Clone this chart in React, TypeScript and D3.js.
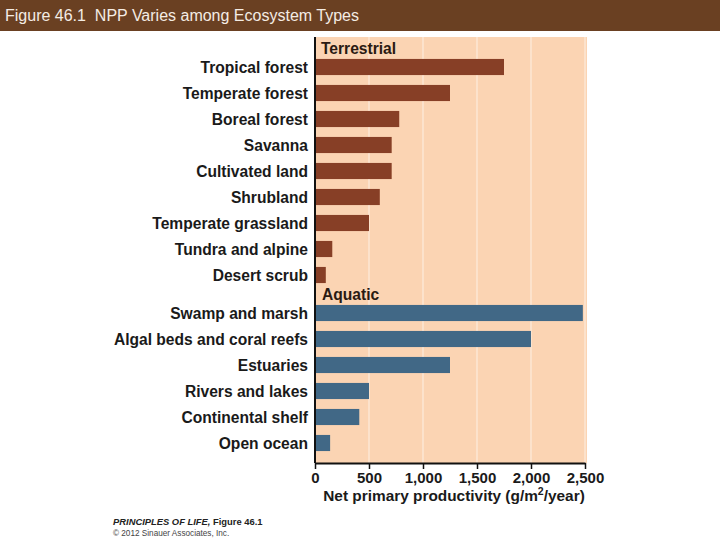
import React, { useEffect, useRef } from 'react';
import * as d3 from 'd3';

const terrestrial = [
  'Tropical forest', 'Temperate forest', 'Boreal forest', 'Savanna', 'Cultivated land',
  'Shrubland', 'Temperate grassland', 'Tundra and alpine', 'Desert scrub'
];
const terrestrialNpp = [1750, 1250, 780, 710, 710, 600, 500, 160, 100];

const aquatic = [
  'Swamp and marsh', 'Algal beds and coral reefs', 'Estuaries', 'Rivers and lakes',
  'Continental shelf', 'Open ocean'
];
const aquaticNpp = [2480, 2000, 1250, 500, 410, 140];

const xTicks = [0, 500, 1000, 1500, 2000, 2500];

const W = 720;
const H = 540;

export default function App() {
  const svgRef = useRef<SVGSVGElement>(null);

  useEffect(() => {
    const svg = d3.select(svgRef.current);
    svg.selectAll('*').remove();
    const font = 'Liberation Sans, Arial, Helvetica, sans-serif';

    // title bar
    svg.append('rect').attr('x', 0).attr('y', 0).attr('width', W).attr('height', 31).attr('fill', '#6a4022');
    svg.append('text')
      .attr('x', 5).attr('y', 21)
      .style('font-family', font).style('font-size', '16px').style('white-space', 'pre')
      .attr('fill', '#f4ece4')
      .text('Figure 46.1  NPP Varies among Ecosystem Types');

    const x = d3.scaleLinear().domain([0, 2500]).range([315, 585]);
    const step = 26;
    const yT = d3.scaleBand().domain(terrestrial).range([54, 54 + step * terrestrial.length]).paddingInner(0.38).paddingOuter(0.19);
    const yA = d3.scaleBand().domain(aquatic).range([300, 300 + step * aquatic.length]).paddingInner(0.38).paddingOuter(0.19);

    const top = 37;
    const bottom = 463;
    const labelSize = '15.6px';

    // panel
    svg.append('rect')
      .attr('x', x(0)).attr('y', top)
      .attr('width', x(2500) - x(0) + 2).attr('height', bottom - top)
      .attr('fill', '#fbd4b3');

    // gridlines
    svg.append('g').selectAll('line').data(xTicks.slice(1)).join('line')
      .attr('x1', d => x(d)).attr('x2', d => x(d))
      .attr('y1', top).attr('y2', bottom)
      .attr('stroke', '#fdf0e4').attr('stroke-width', 1);

    const drawBars = (names: string[], vals: number[], y: d3.ScaleBand<string>, color: string) => {
      svg.append('g').selectAll('rect').data(names).join('rect')
        .attr('x', x(0)).attr('y', d => y(d)!)
        .attr('width', (d, i) => x(vals[i]) - x(0)).attr('height', y.bandwidth())
        .attr('fill', color);
      svg.append('g').selectAll('text').data(names).join('text')
        .attr('x', 308).attr('y', d => y(d)! + y.bandwidth() / 2)
        .attr('dy', '0.36em').attr('text-anchor', 'end')
        .style('font-family', font).style('font-size', labelSize).style('font-weight', 'bold')
        .attr('fill', '#1a1a1a')
        .text(d => d);
    };
    drawBars(terrestrial, terrestrialNpp, yT, '#873f26');
    drawBars(aquatic, aquaticNpp, yA, '#416886');

    // group headers
    svg.append('text').attr('x', 321).attr('y', 54)
      .style('font-family', font).style('font-size', labelSize).style('font-weight', 'bold')
      .attr('fill', '#2a1a12').text('Terrestrial');
    svg.append('text').attr('x', 322).attr('y', 300)
      .style('font-family', font).style('font-size', labelSize).style('font-weight', 'bold')
      .attr('fill', '#2a1a12').text('Aquatic');

    // axes
    svg.append('line').attr('x1', x(0)).attr('x2', x(0)).attr('y1', top).attr('y2', bottom)
      .attr('stroke', '#111').attr('stroke-width', 2);
    const ax = svg.append('g').attr('transform', `translate(0,${bottom})`)
      .call(d3.axisBottom(x).tickValues(xTicks).tickSize(6).tickSizeOuter(0).tickFormat(d3.format(',')));
    ax.select('.domain').attr('stroke', '#111').attr('stroke-width', 2);
    ax.selectAll('.tick line').attr('stroke', '#111').attr('stroke-width', 1.5);
    ax.selectAll('.tick text')
      .attr('y', 9).attr('fill', '#1a1a1a')
      .style('font-family', font).style('font-size', '15px').style('font-weight', 'bold');

    const lbl = svg.append('text').attr('x', 454).attr('y', 501).attr('text-anchor', 'middle')
      .style('font-family', font).style('font-size', '15.4px').style('font-weight', 'bold').attr('fill', '#1a1a1a');
    lbl.append('tspan').text('Net primary productivity (g/m');
    lbl.append('tspan').attr('dy', -6).style('font-size', '10.5px').text('2');
    lbl.append('tspan').attr('dy', 6).text('/year)');

    // footer
    const f = svg.append('text').attr('x', 113).attr('y', 525)
      .style('font-family', font).style('font-size', '9.4px').style('font-weight', 'bold').attr('fill', '#222');
    f.append('tspan').style('font-style', 'italic').text('PRINCIPLES OF LIFE,');
    f.append('tspan').text(' Figure 46.1');
    svg.append('text').attr('x', 113).attr('y', 536)
      .style('font-family', font).style('font-size', '8.2px').attr('fill', '#444')
      .text('© 2012 Sinauer Associates, Inc.');
  }, []);

  return (
    <svg ref={svgRef} width={W} height={H}
      style={{ position: 'absolute', left: 0, top: 0, background: '#fff' }} />
  );
}
